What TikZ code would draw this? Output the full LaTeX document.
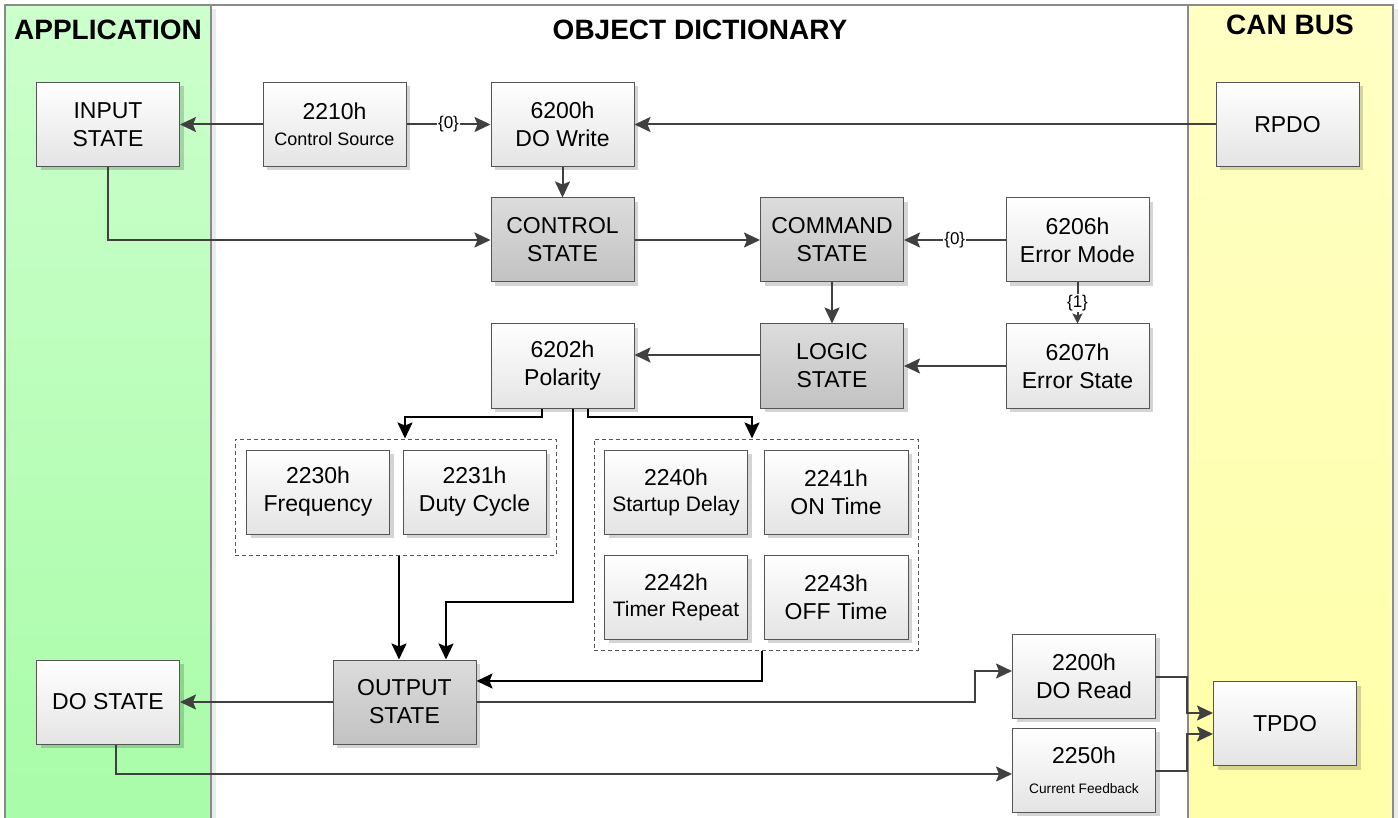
\documentclass[tikz,border=0pt]{standalone}
\usepackage{fontspec}
\setmainfont{Liberation Sans}
\usetikzlibrary{arrows.meta,shadows}
\definecolor{ln}{HTML}{404040}
\definecolor{bd}{HTML}{555555}
\definecolor{boxbot}{HTML}{E4E4E4}
\definecolor{gtop}{HTML}{DCDCDC}
\definecolor{gbot}{HTML}{C2C2C2}
\definecolor{lane}{HTML}{8A8A8A}
\definecolor{apptop}{HTML}{CCFFCC}
\definecolor{appbot}{HTML}{A8FCA8}
\definecolor{cantop}{HTML}{FFFFC4}
\definecolor{canbot}{HTML}{FFFFA8}
\begin{document}
\begin{tikzpicture}[x=1pt,y=-1pt,
  box/.style={draw=bd, line width=1pt, top color=white, bottom color=boxbot,
    minimum width=143pt, minimum height=84pt, inner sep=0pt, align=center,
    font=\fontsize{23}{28}\selectfont,
    drop shadow={shadow xshift=4pt, shadow yshift=-4pt, fill=black, opacity=0.17}},
  gbox/.style={box, top color=gtop, bottom color=gbot},
  grp/.style={draw=bd, line width=1pt, dash pattern=on 4pt off 3pt, inner sep=0pt},
  arr/.style={draw=ln, line width=2pt, -{Stealth[length=16pt,width=15pt,inset=3pt]}},
  arrs/.style={draw=ln, line width=2pt, -{Stealth[length=10pt,width=10pt,inset=2pt]}},
  blk/.style={draw=black, line width=2pt, -{Stealth[length=16pt,width=15pt,inset=3pt]}},
  lbl/.style={fill=white, inner sep=1pt, font=\fontsize{17}{19}\selectfont},
  title/.style={font=\bfseries\fontsize{28}{31}\selectfont}]
\useasboundingbox (0,0) rectangle (1398,818);
\clip (0,0) rectangle (1398,818);
% lanes
\fill[white] (0,0) rectangle (1398,818);
\fill[black, opacity=0.08] (211,9) rectangle (216,830);
\fill[black, opacity=0.08] (1393,9) rectangle (1398,830);
\shade[top color=apptop, bottom color=appbot] (5,5) rectangle (211,830);
\shade[top color=cantop, bottom color=canbot] (1188,5) rectangle (1393,830);
\draw[lane, line width=1.5pt] (5,830) -- (5,5) -- (1393,5) -- (1393,830);
\draw[lane, line width=1.5pt] (211,5) -- (211,830);
\draw[lane, line width=1.5pt] (1188,5) -- (1188,830);
\node[title] (tapp) at (108,30) {APPLICATION};
\node[title] (tod) at (700,30) {OBJECT DICTIONARY};
\node[title] (tcan) at (1290,25) {CAN BUS};
% group frames
\node[grp, minimum width=321pt, minimum height=116pt] (g1) at (395.5,497) {};
\node[grp, minimum width=324pt, minimum height=211pt] (g2) at (756,544.5) {};
% boxes
\node[box] (inp) at (108,124.5) {INPUT\\STATE};
\node[box] (cs) at (334.5,124.5) {2210h\\[-2pt]{\fontsize{18}{22}\selectfont Control Source}};
\node[box] (dow) at (562.5,124.5) {6200h\\DO Write};
\node[box] (rpdo) at (1287.5,124.5) {RPDO};
\node[gbox] (ctl) at (562.5,240) {CONTROL\\STATE};
\node[gbox] (cmd) at (832,240) {COMMAND\\STATE};
\node[box] (em) at (1077.5,240) {6206h\\Error Mode};
\node[box] (pol) at (562.5,366) {6202h\\Polarity};
\node[gbox] (logic) at (832,366) {LOGIC\\STATE};
\node[box] (es) at (1077.5,366) {6207h\\Error State};
\node[box] (f30) at (318,492) {2230h\\Frequency};
\node[box] (f31) at (474.5,492) {2231h\\Duty Cycle};
\node[box] (t40) at (676,492) {2240h\\[-2pt]{\fontsize{21}{25}\selectfont Startup Delay}};
\node[box, minimum width=144pt] (t41) at (836,492) {2241h\\ON Time};
\node[box] (t42) at (676,597) {2242h\\[-2pt]{\fontsize{21}{25}\selectfont Timer Repeat}};
\node[box, minimum width=144pt] (t43) at (836,597) {2243h\\OFF Time};
\node[box] (dost) at (108,702) {DO STATE};
\node[gbox] (out) at (404.5,702) {OUTPUT\\STATE};
\node[box] (dor) at (1084,676) {2200h\\DO Read};
\node[box] (cf) at (1084,770) {2250h\\[2pt]{\fontsize{13.7}{16}\selectfont Current Feedback}};
\node[box] (tpdo) at (1285,723.5) {TPDO};
% connectors
\draw[arr] (cs.west) -- (inp.east);
\draw[arr] (cs.east) -- node[lbl] (l0a) {\{0\}} (dow.west);
\draw[arr] (rpdo.west) -- (dow.east);
\draw[arr] (dow.south) -- (ctl.north);
\draw[arr] (inp.south) |- (ctl.west);
\draw[arr] (ctl.east) -- (cmd.west);
\draw[arr] (em.west) -- node[lbl] (l0b) {\{0\}} (cmd.east);
\draw[arrs] (em.south) -- node[lbl] (l1) {\{1\}} (es.north);
\draw[arr] (cmd.south) -- (logic.north);
\draw[arr] (es.west) -- (logic.east);
\draw[arr] ([yshift=11pt]logic.west) -- ([yshift=11pt]pol.east);
\coordinate (pa) at (405,417);
\coordinate (pb) at (752,417);
\coordinate (pc) at (446,602);
\draw[blk] ([xshift=-21pt]pol.south) |- (pa) -- ([xshift=9.5pt]g1.north);
\draw[blk] ([xshift=25pt]pol.south) |- (pb) -- ([xshift=-4pt]g2.north);
\draw[blk] ([xshift=10pt]pol.south) |- (pc) -- ([xshift=41.5pt]out.north);
\draw[blk] ([xshift=3.5pt]g1.south) -- ([xshift=-5.5pt]out.north);
\draw[blk] ([xshift=6pt]g2.south) |- ([yshift=21pt]out.east);
\draw[arr] (out.west) -- (dost.east);
\coordinate (pd) at (975,702);
\draw[arr] (out.east) -- (pd) |- ([yshift=5pt]dor.west);
\draw[arr] ([xshift=8pt]dost.south) |- ([yshift=-4pt]cf.west);
\coordinate (pe) at (1187,677);
\coordinate (pf) at (1187,771);
\draw[arr] ([yshift=-1pt]dor.east) -- (pe) |- ([yshift=10.5pt]tpdo.west);
\draw[arr] ([yshift=-1pt]cf.east) -- (pf) |- ([yshift=-10.5pt]tpdo.west);
\end{tikzpicture}
\end{document}
